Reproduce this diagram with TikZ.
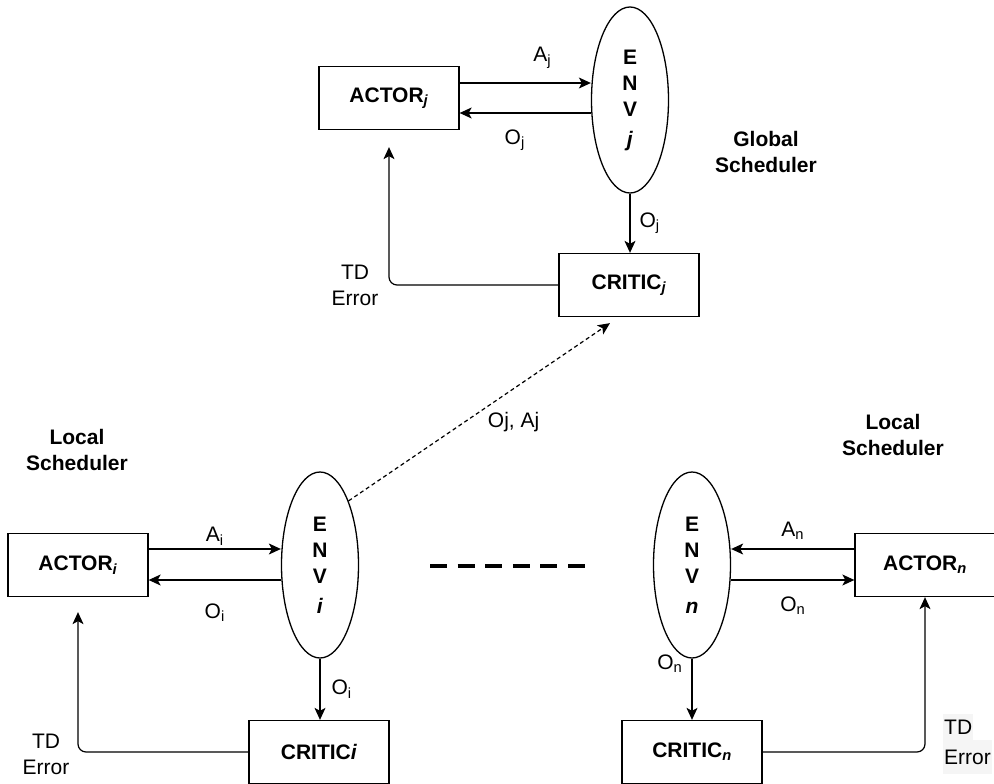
\documentclass[tikz,border=0pt]{standalone}
\usepackage{fontspec}
\setmainfont{Liberation Sans}
\usetikzlibrary{positioning,arrows.meta,shapes.geometric}

\begin{document}
\begin{tikzpicture}[x=1pt,y=-1pt,
    font=\fontsize{21}{26}\selectfont,
    box/.style={draw, line width=1.3pt, minimum width=140pt, minimum height=63pt,
      inner sep=0pt, font=\fontsize{21}{26}\selectfont\bfseries},
    env/.style={draw, ellipse, line width=1.3pt, minimum width=77pt, minimum height=186pt,
      inner sep=0pt, align=center, font=\fontsize{21}{26}\selectfont\bfseries},
    flow/.style={-{Stealth[length=12pt,width=11pt,inset=3pt]}, line width=1.2pt},
    share/.style={-{Stealth[length=12pt,width=11pt,inset=3pt]}, line width=1.2pt,
      dash pattern=on 4pt off 3pt},
    lbl/.style={inner sep=1pt},
    sched/.style={align=center, font=\fontsize{21}{26}\selectfont\bfseries}]
  \useasboundingbox (0,0) rectangle (994,784);

  % global scheduler
  \node[box] (actorj) at (389,98) {ACTOR\textsubscript{\textit{j}}};
  \node[env] (envj) at (630,100) {E\\N\\V\\[4pt]\textit{j}};
  \node[box] (criticj) at (629,285) {CRITIC\textsubscript{\textit{j}}};
  \node[sched] (globalsch) at (766,152) {Global\\Scheduler};

  \draw[flow] ([yshift=15pt]actorj.east) -- node[lbl, pos=0.63, above=13pt] (aj) {A\textsubscript{j}}
    ([yshift=15pt]actorj.east -| envj.west);
  \draw[flow] ([yshift=-15pt]actorj.east -| envj.west) -- node[lbl, pos=0.58, below=15pt] (oj) {O\textsubscript{j}}
    ([yshift=-15pt]actorj.east);
  \draw[flow] (envj.south) -- node[lbl, right=8pt] (ojc) {O\textsubscript{j}} (envj.south |- criticj.north);
  \draw[flow, rounded corners=8pt] (criticj.west) -| ([yshift=-17pt]actorj.south);
  \node[lbl, align=center] (tdj) at (355,285) {TD\\Error};

  % local scheduler i
  \node[box] (actori) at (78,565) {ACTOR\textsubscript{\textit{i}}};
  \node[env] (envi) at (320,565) {E\\N\\V\\[4pt]\textit{i}};
  \node[box] (critici) at (319,752) {CRITIC\textit{i}};
  \node[sched] (localsch) at (77,450) {Local\\Scheduler};

  \draw[flow] ([yshift=16pt]actori.east) -- node[lbl, above=2pt] (ai) {A\textsubscript{i}}
    ([yshift=16pt]actori.east -| envi.west);
  \draw[flow] ([yshift=-15pt]actori.east -| envi.west) -- node[lbl, below=22pt] (oi) {O\textsubscript{i}}
    ([yshift=-15pt]actori.east);
  \draw[flow] (envi.south) -- node[lbl, right=10pt] (oic) {O\textsubscript{i}} (envi.south |- critici.north);
  \draw[flow, rounded corners=8pt] (critici.west) -| ([yshift=-15pt]actori.south);
  \node[lbl, align=center] (tdi) at (46,754) {TD\\Error};

  % shared experience
  \draw[share] (envi.66) -- node[lbl, pos=0.62, xshift=3pt, yshift=-31pt] (ojaj) {Oj, Aj}
    ([xshift=-19pt,yshift=-6pt]criticj.south);

  % local scheduler n
  \node[env] (envn) at (692,565) {E\\N\\V\\[4pt]\textit{n}};
  \node[box] (actorn) at (925,565) {ACTOR\textsubscript{\textit{n}}};
  \node[box] (criticn) at (692,752) {CRITIC\textsubscript{\textit{n}}};
  \node[sched] (localschn) at (893,435) {Local\\Scheduler};

  \draw[flow] ([yshift=16pt]actorn.west) -- node[lbl, above=8pt] (an) {A\textsubscript{n}}
    ([yshift=16pt]actorn.west -| envn.east);
  \draw[flow] ([yshift=-15pt]actorn.west -| envn.east) -- node[lbl, below=15pt] (on) {O\textsubscript{n}}
    ([yshift=-15pt]actorn.west);
  \draw[flow] (envn.south) -- node[lbl, pos=0.08, left=8pt] (onc) {O\textsubscript{n}} (envn.south |- criticn.north);
  \draw[flow, rounded corners=8pt] (criticn.east) -| (actorn.south);
  \node[lbl, anchor=west, fill=black!4, minimum height=26pt] (tdn) at (943,727) {TD};
  \node[lbl, anchor=north west, fill=black!4, minimum height=34pt] (errn) at (tdn.south west) {Error};

  % more schedulers
  \coordinate (dotsl) at (430,566);
  \coordinate (dotsr) at (585,566);
  \draw[line width=3.5pt, dash pattern=on 17pt off 10.6pt] (dotsl) -- (dotsr);
\end{tikzpicture}
\end{document}
